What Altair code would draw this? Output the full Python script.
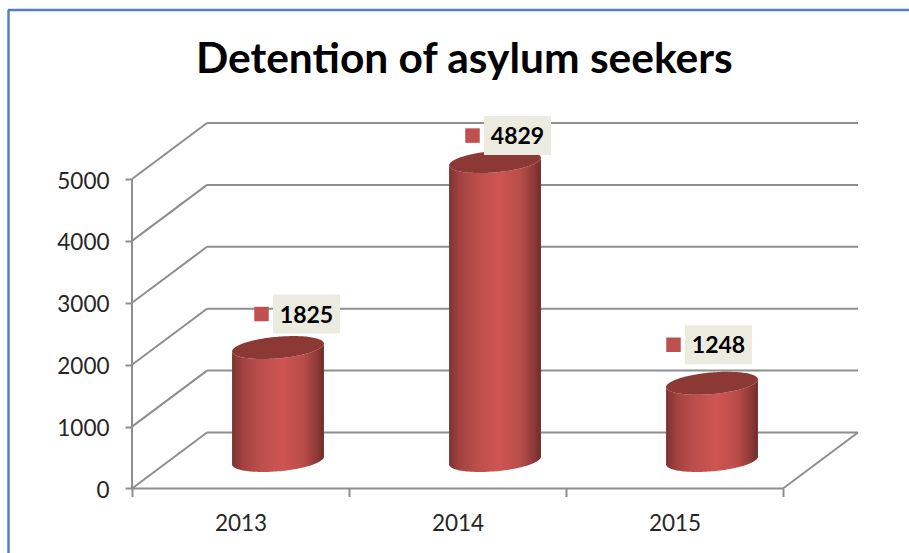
import math
import altair as alt
import pandas as pd

# Chart values
YEARS = ["2013", "2014", "2015"]
DETAINED = [1825, 4829, 1248]
VALUE_TICKS = [0, 1000, 2000, 3000, 4000, 5000]
TITLE = "Detention of asylum seekers"

# Pixel layout of the plot area
PX_PER_YEAR = 217.0
PX_PER_UNIT = 0.0619
DEPTH_PX_X = 75.0
DEPTH_PX_Y = 56.0
LEFT, TOP = 132, 123

depth_x = DEPTH_PX_X / PX_PER_YEAR
depth_y = DEPTH_PX_Y / PX_PER_UNIT
x_max = len(YEARS) + depth_x
y_max = VALUE_TICKS[-1] + depth_y
plot_w = x_max * PX_PER_YEAR
plot_h = y_max * PX_PER_UNIT

GRID = "#8e8e8e"
RED = "#c0504d"
LID = "#8c3936"
LABEL_BG = "#ecebe0"
TEXT = "#262626"

x_scale = alt.Scale(domain=[0, x_max], range=[0, plot_w], nice=False, zero=False)
y_scale = alt.Scale(domain=[0, y_max], range=[plot_h, 0], nice=False, zero=False)

# Year labels sit between the tick positions, so half-steps carry a label and no tick
x_axis = alt.Axis(
    values=[0, 0.5, 1, 1.5, 2, 2.5, 3], title=None,
    domain=False, grid=False, tickColor=GRID, tickWidth=2, tickSize=8,
    tickOpacity={"condition": {"test": "datum.value % 1 == 0", "value": 1}, "value": 0},
    labelExpr="datum.value % 1 ? " + str(YEARS) + "[floor(datum.value)] : ''",
    labelFont="Lato", labelFontSize=22.5, labelColor=TEXT, labelPadding=16,
    labelOverlap=False, labelFlush=False, labelBound=False, labelAngle=0)
y_axis = alt.Axis(
    values=VALUE_TICKS, title=None, domain=False, grid=False,
    tickColor=GRID, tickWidth=2, tickSize=7,
    labelFont="Lato", labelFontSize=22.5, labelColor=TEXT, labelPadding=16, labelOffset=2,
    labelOverlap=False, labelFlush=False, labelBound=False, format="d")

X = lambda f="x": alt.X(f"{f}:Q", scale=x_scale, axis=x_axis)
Y = lambda f="y": alt.Y(f"{f}:Q", scale=y_scale, axis=y_axis)

# Back wall lines, side wall diagonals and floor edges
back = pd.DataFrame({"x": [depth_x] * 6, "x2": [len(YEARS) + depth_x] * 6,
                     "y": [v + depth_y for v in VALUE_TICKS]})
back_lines = alt.Chart(back).mark_rule(color=GRID, strokeWidth=2).encode(
    x=X(), x2="x2:Q", y=Y())

diag_rows = []
for v in VALUE_TICKS:
    diag_rows += [{"k": v, "x": 0, "y": v}, {"k": v, "x": depth_x, "y": v + depth_y}]
diag_rows += [{"k": -1, "x": len(YEARS), "y": 0},
              {"k": -1, "x": len(YEARS) + depth_x, "y": depth_y}]
diagonals = alt.Chart(pd.DataFrame(diag_rows)).mark_line(color=GRID, strokeWidth=2).encode(
    x=X(), y=Y(), detail="k:N")

wall_edge = alt.Chart(pd.DataFrame({"x": [0], "y": [0], "y2": [VALUE_TICKS[-1]]})).mark_rule(
    color=GRID, strokeWidth=2).encode(x=X(), y=Y(), y2="y2:Q")
floor_edge = alt.Chart(pd.DataFrame({"x": [0], "x2": [len(YEARS)], "y": [0]})).mark_rule(
    color=GRID, strokeWidth=2).encode(x=X(), x2="x2:Q", y=Y())

# Cylinders: a circle on the floor seen through the oblique depth projection
FOOT_X = 43.3 / PX_PER_YEAR      # circle radius along the year axis
FOOT_D = 0.205                   # circle radius along the depth axis
cx_shift = 0.5 * depth_x
cy_shift = 0.5 * depth_y
half_w = math.hypot(FOOT_X, FOOT_D * depth_x)
t0 = math.atan2(FOOT_D * depth_x, FOOT_X)
rise = FOOT_D * depth_y
ANGLES = [math.pi * i / 72 for i in range(72, -1, -1)]

side_rows, lid_rows = [], []
for i, (year, value) in enumerate(zip(YEARS, DETAINED)):
    cx = i + 0.5 + cx_shift
    for a in ANGLES:
        sx = cx + half_w * math.cos(a)
        upper = rise * (math.cos(t0) * math.sin(a) + math.sin(t0) * math.cos(a))
        lower = rise * (-math.cos(t0) * math.sin(a) + math.sin(t0) * math.cos(a))
        side_rows.append({"year": year, "x": sx, "y": cy_shift + lower,
                          "y2": cy_shift + value + lower})
        lid_rows.append({"year": year, "x": sx, "y": cy_shift + value + lower,
                         "y2": cy_shift + value + upper})

shade = alt.LinearGradient(
    gradient="linear", x1=0, x2=1, y1=0, y2=0,
    stops=[alt.GradientStop(color="#7c3432", offset=0),
           alt.GradientStop(color="#a34240", offset=0.12),
           alt.GradientStop(color="#bb4e4b", offset=0.3),
           alt.GradientStop(color="#cf5552", offset=0.55),
           alt.GradientStop(color="#b84c49", offset=0.78),
           alt.GradientStop(color="#8e3a38", offset=0.92),
           alt.GradientStop(color="#6e2d2b", offset=1)])

sides = alt.Chart(pd.DataFrame(side_rows)).mark_area(color=shade, interpolate="linear").encode(
    x=X(), y=Y(), y2="y2:Q", detail="year:N")
lids = alt.Chart(pd.DataFrame(lid_rows)).mark_area(color=LID, interpolate="linear").encode(
    x=X(), y=Y(), y2="y2:Q", detail="year:N")

# Value labels, each with its series key, moved clear of its cylinder (pixel offsets from lid centre)
LABEL_NUDGE = [(28.5, -33.5), (22.5, -26.0), (6.5, -38.5)]
BOX_W, BOX_H = 67.0, 39.0
KEY_GAP = 45.0

label_rows = []
for i, (value, (ox, oy)) in enumerate(zip(DETAINED, LABEL_NUDGE)):
    lx = i + 0.5 + cx_shift + ox / PX_PER_YEAR
    ly = value + cy_shift - oy / PX_PER_UNIT
    label_rows.append({
        "value": value, "x": lx, "y": ly,
        "bx": lx - BOX_W / 2 / PX_PER_YEAR, "bx2": lx + BOX_W / 2 / PX_PER_YEAR,
        "by": ly - BOX_H / 2 / PX_PER_UNIT, "by2": ly + BOX_H / 2 / PX_PER_UNIT,
        "kx": lx - KEY_GAP / PX_PER_YEAR,
    })
labels = pd.DataFrame(label_rows)

boxes = alt.Chart(labels).mark_rect(color=LABEL_BG).encode(
    x=X("bx"), x2="bx2:Q", y=Y("by"), y2="by2:Q")
keys = alt.Chart(labels).mark_point(shape="square", filled=True, size=210, color=RED, opacity=1).encode(
    x=X("kx"), y=Y())
values = alt.Chart(labels).mark_text(font="Lato", fontWeight="bold", fontSize=23, color="#000000",
                                     align="center", baseline="middle", dy=1.5).encode(
    x=X(), y=Y(), text="value:Q")

# Chart frame: top and left edges, running off the page on the other sides
frame_top = alt.Chart(pd.DataFrame({"a": [0]})).mark_rule(color="#4f81bd", strokeWidth=2.4).encode(
    x=alt.value(8 - LEFT), x2=alt.value(909 - LEFT), y=alt.value(10 - TOP))
frame_left = alt.Chart(pd.DataFrame({"a": [0]})).mark_rule(color="#4f81bd", strokeWidth=2.4).encode(
    x=alt.value(8.5 - LEFT), y=alt.value(10 - TOP), y2=alt.value(553 - TOP))

chart = alt.layer(
    frame_top, frame_left, back_lines, diagonals, wall_edge, floor_edge,
    sides, lids, boxes, keys, values,
).properties(
    width=plot_w,
    height=plot_h,
    padding={"left": LEFT, "top": TOP, "right": 909 - LEFT - plot_w, "bottom": 553 - TOP - plot_h},
    autosize=alt.AutoSizeParams(type="none"),
    background="white",
    title=alt.TitleParams(TITLE, font="Lato", fontWeight="bold", fontSize=42.5, color="#000000",
                          anchor="start", frame="group", dx=64, dy=107, offset=0, baseline="alphabetic"),
).configure_view(stroke=None)

chart.save("out.html", embed_options={"renderer": "svg", "actions": False})
